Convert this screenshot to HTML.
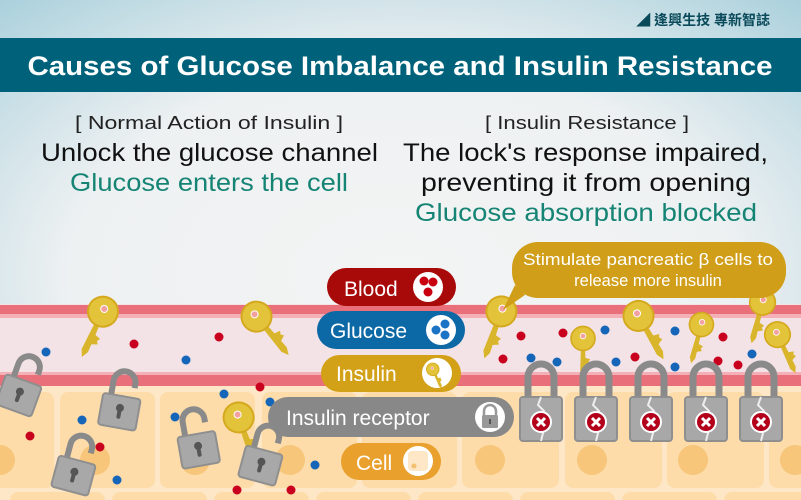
<!DOCTYPE html>
<html><head><meta charset="utf-8"><style>html,body{margin:0;padding:0;overflow:hidden}svg{display:block}text{font-family:"Liberation Sans","Noto Sans CJK TC",sans-serif}</style></head><body>
<svg width="801" height="500" viewBox="0 0 801 500" xmlns="http://www.w3.org/2000/svg">
<defs>
<radialGradient id="bg" cx="0.5" cy="0.55" r="0.75">
<stop offset="0" stop-color="#f3f4f4"/><stop offset="0.55" stop-color="#eef1f2"/><stop offset="1" stop-color="#a9d0dc"/></radialGradient>
<g id="key">
<path d="M-2.5,0 L2.5,0 L3.5,36 L0,43 L-3.5,36 Z" fill="#d9b52b"/>
<path d="M2,17 L9,19 L7,22 L9,25 L2,28 Z" fill="#d9b52b"/>
<circle cx="0" cy="-7" r="15" fill="#e3c33a" stroke="#d4a91e" stroke-width="2"/>
<circle cx="0" cy="-10" r="3.5" fill="#f3a0a0" stroke="#fff" stroke-width="1"/>
</g>
<g id="openlock">
<path d="M-11,-6 L-11,-20 A11,11 0 0 1 11,-20 L11,-16" fill="none" stroke="#8a8a8a" stroke-width="6"/>
<rect x="-19" y="-6" width="38" height="32" rx="3" fill="#a8a8a8" stroke="#8f8f8f" stroke-width="2"/>
<circle cx="0" cy="6" r="4" fill="#555"/><rect x="-2" y="6" width="4" height="11" rx="2" fill="#555"/>
</g>
<g id="badlock">
<path d="M-13,0 L-13,-20 A13,13 0 0 1 13,-20 L13,0" fill="none" stroke="#8a8a8a" stroke-width="7"/>
<rect x="-21" y="0" width="42" height="44" rx="3" fill="#a8a8a8" stroke="#8f8f8f" stroke-width="2"/>
<path d="M0,0 L-3,8 L3,14 L-3,24 L3,32 L0,44" fill="none" stroke="#eee" stroke-width="2"/>
<circle cx="0" cy="25" r="10" fill="#b3001b" stroke="#fff" stroke-width="2"/>
<path d="M-4,21 L4,29 M4,21 L-4,29" stroke="#fff" stroke-width="3"/>
</g>
</defs>
<rect width="801" height="500" fill="url(#bg)"/>
<text x="770" y="25" text-anchor="end" font-size="14" font-weight="bold" fill="#0a4a5a">◢ 逢興生技  專新智誌</text>
<rect x="0" y="38" width="801" height="54" fill="#00627a"/>
<text x="400" y="75" text-anchor="middle" font-size="27" font-weight="bold" fill="#fff" textLength="745" lengthAdjust="spacingAndGlyphs">Causes of Glucose Imbalance and Insulin Resistance</text>
<g font-size="18" fill="#222">
<text x="75" y="129" textLength="268" lengthAdjust="spacingAndGlyphs">[  Normal Action of Insulin  ]</text>
<text x="485" y="129" textLength="204" lengthAdjust="spacingAndGlyphs">[  Insulin Resistance  ]</text>
</g>
<g font-size="25">
<text x="41" y="161" fill="#111" textLength="337" lengthAdjust="spacingAndGlyphs">Unlock the glucose channel</text>
<text x="70" y="191" fill="#168475" textLength="278" lengthAdjust="spacingAndGlyphs">Glucose enters the cell</text>
<text x="403" y="161" fill="#111" textLength="365" lengthAdjust="spacingAndGlyphs">The lock's response impaired,</text>
<text x="421" y="191" fill="#111" textLength="330" lengthAdjust="spacingAndGlyphs">preventing it from opening</text>
<text x="415" y="221" fill="#168475" textLength="342" lengthAdjust="spacingAndGlyphs">Glucose absorption blocked</text>
</g>
<!-- cells -->
<rect x="0" y="385" width="801" height="115" fill="#fde7c6"/>
<g fill="#fddcaa">
<rect x="-40" y="392" width="94" height="96" rx="8"/><rect x="60" y="392" width="95" height="96" rx="8"/><rect x="160" y="392" width="95" height="96" rx="8"/><rect x="262" y="392" width="95" height="96" rx="8"/><rect x="362" y="392" width="95" height="96" rx="8"/><rect x="462" y="392" width="97" height="96" rx="8"/><rect x="565" y="392" width="97" height="96" rx="8"/><rect x="667" y="392" width="97" height="96" rx="8"/><rect x="769" y="392" width="97" height="96" rx="8"/>
<rect x="10" y="492" width="95" height="20" rx="8"/><rect x="112" y="492" width="95" height="20" rx="8"/><rect x="214" y="492" width="95" height="20" rx="8"/><rect x="316" y="492" width="95" height="20" rx="8"/><rect x="418" y="492" width="95" height="20" rx="8"/><rect x="520" y="492" width="95" height="20" rx="8"/><rect x="622" y="492" width="95" height="20" rx="8"/><rect x="724" y="492" width="95" height="20" rx="8"/>
</g>
<g fill="#f7c67a">
<circle cx="0" cy="460" r="15"/><circle cx="95" cy="460" r="15"/><circle cx="195" cy="460" r="15"/><circle cx="290" cy="460" r="15"/><circle cx="385" cy="460" r="15"/><circle cx="490" cy="460" r="15"/><circle cx="592" cy="460" r="15"/><circle cx="693" cy="460" r="15"/><circle cx="795" cy="460" r="15"/>
</g>
<!-- vessel -->
<rect x="0" y="304" width="801" height="82" fill="#f3e3e6"/>
<rect x="0" y="305" width="801" height="10" fill="#e9707a"/>
<rect x="0" y="314" width="801" height="4" fill="#f4b0b6"/>
<rect x="0" y="372" width="801" height="4" fill="#f4b0b6"/>
<rect x="0" y="375" width="801" height="11" fill="#e9707a"/>
<!-- dots -->
<g fill="#c8001e">
<circle cx="134" cy="344" r="4.5"/><circle cx="219" cy="337" r="4.5"/><circle cx="260" cy="387" r="4.5"/><circle cx="30" cy="436" r="4.5"/><circle cx="100" cy="447" r="4.5"/><circle cx="58" cy="482" r="4.5"/><circle cx="237" cy="490" r="4.5"/><circle cx="291" cy="490" r="4.5"/><circle cx="521" cy="336" r="4.5"/><circle cx="503" cy="359" r="4.5"/><circle cx="563" cy="333" r="4.5"/><circle cx="635" cy="357" r="4.5"/><circle cx="723" cy="337" r="4.5"/><circle cx="718" cy="361" r="4.5"/><circle cx="738" cy="365" r="4.5"/>
</g>
<g fill="#1565b8">
<circle cx="46" cy="352" r="4.5"/><circle cx="186" cy="360" r="4.5"/><circle cx="224" cy="394" r="4.5"/><circle cx="82" cy="420" r="4.5"/><circle cx="175" cy="417" r="4.5"/><circle cx="117" cy="480" r="4.5"/><circle cx="315" cy="465" r="4.5"/><circle cx="270" cy="402" r="4.5"/><circle cx="531" cy="358" r="4.5"/><circle cx="557" cy="362" r="4.5"/><circle cx="605" cy="330" r="4.5"/><circle cx="616" cy="362" r="4.5"/><circle cx="675" cy="331" r="4.5"/><circle cx="675" cy="367" r="4.5"/><circle cx="752" cy="354" r="4.5"/>
</g>
<!-- keys -->
<use href="#key" transform="translate(100,318) rotate(25)"/>
<use href="#key" transform="translate(261,322) rotate(-40)"/>
<use href="#key" transform="translate(499,318) rotate(20)"/>
<use href="#key" transform="translate(583,344) rotate(0) scale(0.8)"/>
<use href="#key" transform="translate(642,322) rotate(-30)"/>
<use href="#key" transform="translate(700,330) rotate(15) scale(0.8)"/>
<use href="#key" transform="translate(761,308) rotate(15) scale(0.85)"/>
<use href="#key" transform="translate(780,340) rotate(-25) scale(0.85)"/>
<use href="#key" transform="translate(241,424) rotate(-20)"/>
<!-- open locks -->
<use href="#openlock" transform="translate(22,386) rotate(20)"/>
<use href="#openlock" transform="translate(121,402) rotate(10)"/>
<use href="#openlock" transform="translate(76,466) rotate(15)"/>
<use href="#openlock" transform="translate(197,440) rotate(-10)"/>
<use href="#openlock" transform="translate(263,456) rotate(15)"/>
<!-- bad locks -->
<use href="#badlock" transform="translate(541,397)"/>
<use href="#badlock" transform="translate(596,397)"/>
<use href="#badlock" transform="translate(651,397)"/>
<use href="#badlock" transform="translate(706,397)"/>
<use href="#badlock" transform="translate(761,397)"/>
<!-- bubble -->
<path d="M525,295 L503,310 L515,285 Z" fill="#d09e18"/>
<rect x="512" y="242" width="274" height="56" rx="26" fill="#d09e18"/>
<g font-size="16.5" fill="#fff" text-anchor="middle">
<text x="648" y="265" textLength="250" lengthAdjust="spacingAndGlyphs">Stimulate pancreatic β cells to</text>
<text x="648" y="286">release more insulin</text>
</g>
<!-- legend -->
<rect x="327" y="268" width="129" height="38" rx="19" fill="#a80a0a"/>
<text x="344" y="296" font-size="21" fill="#fff">Blood</text>
<circle cx="428" cy="287" r="15" fill="#fff"/><g fill="#c80010"><circle cx="424" cy="281" r="4.5"/><circle cx="433" cy="282" r="4.5"/><circle cx="428" cy="292" r="4.5"/></g>
<rect x="317" y="311" width="148" height="38" rx="19" fill="#0d68a6"/>
<text x="330" y="338" font-size="21" fill="#fff">Glucose</text>
<circle cx="441" cy="330" r="15" fill="#fff"/><g fill="#1a73c4"><circle cx="436" cy="330" r="4.5"/><circle cx="445" cy="324" r="4.5"/><circle cx="445" cy="335" r="4.5"/></g>
<rect x="321" y="355" width="140" height="37" rx="18.5" fill="#d2a118"/>
<text x="336" y="381" font-size="21" fill="#fff">Insulin</text>
<circle cx="437" cy="373" r="15" fill="#fff"/><use href="#key" transform="translate(434,372) rotate(-25) scale(0.42)"/>
<rect x="268" y="397" width="246" height="40" rx="20" fill="#888888"/>
<text x="286" y="425" font-size="21" fill="#fff">Insulin receptor</text>
<circle cx="490" cy="417" r="15" fill="#fff"/>
<path d="M484,416 L484,411 A6,6 0 0 1 496,411 L496,416" fill="none" stroke="#999" stroke-width="2.5"/><rect x="482" y="415" width="16" height="13" rx="1.5" fill="#999"/><rect x="489" y="419" width="2" height="5" fill="#555"/>
<rect x="341" y="443" width="100" height="37" rx="18.5" fill="#e9a02c"/>
<text x="356" y="470" font-size="21" fill="#fff">Cell</text>
<circle cx="418" cy="461" r="15" fill="#fff"/><rect x="408" y="451" width="20" height="20" rx="4" fill="#fde7c6"/><circle cx="414" cy="466" r="2.5" fill="#f5bf70"/>
</svg>
</body></html>
